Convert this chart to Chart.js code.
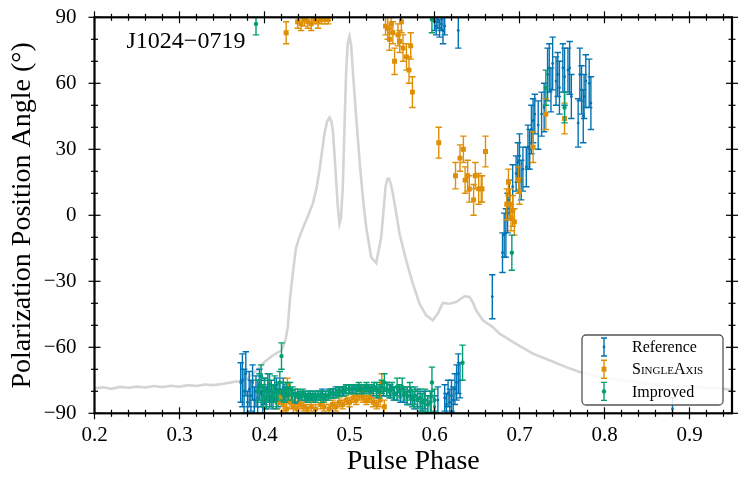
<!DOCTYPE html>
<html>
<head>
<meta charset="utf-8">
<script src="https://cdn.jsdelivr.net/npm/chart.js@4/dist/chart.umd.min.js"></script>
<style>
html,body{margin:0;padding:0;background:#fff;}
canvas{display:block;}
</style>
</head>
<body>
<canvas id="c" width="748" height="486"></canvas>
<script>
// ---------- data ----------
const pulsarName = 'J1024−0719';
const seriesLabels = ['Reference', 'SingleAxis', 'Improved'];
const xTickValues = [0.2, 0.3, 0.4, 0.5, 0.6, 0.7, 0.8, 0.9];
const yTickValues = [-90, -60, -30, 0, 30, 60, 90];

// intensity profile (scaled onto the angle axis)
const profPhase = [0.200,0.210,0.220,0.230,0.240,0.250,0.260,0.270,0.280,0.290,0.300,0.310,0.320,0.330,0.340,0.350,0.360,0.370,0.380,0.390,0.400,0.410,0.420,0.4245,0.4274,0.4300,0.4333,0.437,0.441,0.445,0.449,0.453,0.4568,0.461,0.4647,0.468,0.4706,0.4735,0.4765,0.4785,0.4804,0.4823,0.4843,0.4862,0.4882,0.4900,0.4921,0.4941,0.4961,0.4980,0.5000,0.5020,0.5039,0.5078,0.5118,0.5157,0.5196,0.5255,0.5314,0.5373,0.5400,0.5424,0.5445,0.5463,0.5485,0.5510,0.5550,0.5588,0.5667,0.5745,0.5824,0.5902,0.5980,0.6039,0.6098,0.6176,0.6255,0.6353,0.6412,0.6450,0.6490,0.6569,0.6686,0.6765,0.6961,0.7157,0.7353,0.7549,0.7706,0.800,0.850,0.900,0.9392,0.950];
const profVal   = [-78.6,-78.2,-78.9,-78.0,-78.4,-77.9,-78.3,-77.6,-78.1,-77.5,-77.9,-77.2,-77.6,-76.9,-77.2,-76.7,-76.0,-75.3,-74.2,-70.8,-66.7,-63.6,-61.4,-57.0,-50.8,-38.0,-26.5,-15.0,-9.9,-6.0,-2.3,1.5,5.3,12.0,20.5,30.0,37.1,42.5,44.4,43.0,38.6,28.0,15.9,4.0,-3.8,-1.0,12.9,40.0,65.9,78.5,81.4,77.0,65.9,45.0,25.0,8.0,-5.3,-19.0,-21.7,-9.9,2.0,12.9,16.5,16.7,14.5,9.9,1.0,-8.3,-20.5,-31.0,-40.2,-45.5,-47.7,-44.7,-39.8,-40.2,-39.4,-36.8,-37.1,-39.5,-43.2,-47.7,-50.8,-53.8,-58.4,-62.9,-65.9,-69.0,-71.2,-74.0,-76.5,-78.0,-78.8,-79.5];

// Reference
const refPhase = [0.372,0.374,0.376,0.378,0.380,0.382,0.384,0.386,0.388,0.390,0.392,0.394,0.396,0.398,0.400,0.402,0.404,0.406,0.408,0.410,0.412,0.414,0.416,0.418,0.420,0.422,0.424,0.426,0.428,
 0.432,0.436,0.440,0.444,0.448,0.452,0.456,0.460,0.464,0.468,0.472,0.476,0.480,0.484,0.488,0.492,0.496,0.500,0.504,0.508,0.512,0.516,0.520,0.524,0.528,0.532,0.536,0.540,0.544,0.548,0.552,0.556,0.560,0.564,0.568,0.572,0.576,0.580,0.584,0.588,0.592,0.596,0.600,0.604,
 0.612,0.614,0.616,0.618,0.620,0.622,0.624,0.626,0.628,0.630,
 0.600,0.602,0.604,0.606,0.608,0.610,0.612,0.628,
 0.668,0.880,
 0.680,0.682,0.684,0.686,0.688,0.692,0.696,0.698,0.700,0.702,0.704,0.708,0.710,0.712,0.714,0.716,0.718,0.722,0.726,0.729,0.733,0.735,0.737,0.739,0.743,0.745,0.747,0.751,0.753,0.757,0.759,0.761,0.769,0.771,0.773,0.775,0.776,0.778,0.782,0.784];
const refPA = [-76,-75,-80,-72,-85,-79,-82,-76,-84,-80,-83,-77,-81,-85,-80,-83,-78,-82,-80,-84,-81,-79,-83,-80,-82,-78,-81,-80,-82,
 -82,-83,-83,-82,-83,-82,-83,-82,-82,-81,-82,-81,-81,-80,-80,-80,-79,-79,-79,-80,-79,-80,-79,-80,-80,-81,-80,-80,-79,-80,-81,-81,-82,-82,-83,-82,-84,-83,-85,-84,-86,-85,-87,-84,
 -83,-86,-81,-85,-82,-84,-79,-76,-72,-75,
 88,86,88,85,87,84,86,84,
 -37,-88,
 -17,-9,-8,1,7,13,19,24,27,16,21,22,31,30,39,43,46,41,46,49,64,67,57,69,61,64,58,67,63,66,67,54,42,64,57,45,54,61,60,51];
const refErr = [9,12,10,10,5,8,7,8,6,7,8,7,6,5,6,5,6,5,5,4,4,5,4,4,3,4,3,3,3,
 2.5,2.5,2,2,2,2,2,2,2,2,2,2,2,2,2,2,2,2,2,2,2,2,2,2,2,2,2,2,3,3,3,3,3,3,3,4,4,4,4,4,4,5,5,6,
 6,5,6,6,7,6,7,8,9,8,
 4,4,3,4,3,6,4,8,
 10,5,
 9,10,11,9,9,10,8,9,10,9,10,9,10,9,11,10,9,11,10,11,12,11,10,12,11,10,12,11,13,10,12,10,11,12,11,12,10,12,11,12];

// SingleAxis
const saPhase = [0.4255,0.439,0.443,0.447,0.451,0.455,0.459,0.463,0.467,0.471,0.475,
 0.5424,0.545,0.547,0.549,0.551,0.553,0.557,0.559,0.561,0.563,0.567,0.570,0.572,0.574,
 0.605,0.6247,0.630,0.634,0.636,0.639,0.641,0.646,0.648,0.652,0.655,0.656,0.660,
 0.685,0.687,0.689,0.690,0.692,0.694,0.699,0.700,0.716,0.731,0.753,
 0.415,0.418,0.422,0.426,0.427,0.430,0.434,0.438,0.442,0.446,0.450,0.455,0.460,0.466,0.470,0.476,0.480,0.484,0.488,0.492,0.496,0.500,0.504,0.508,0.512,0.516,0.520,0.524,0.528,0.532,0.536,0.538,0.541];
const saPA = [83,88,87,89,88,87,89,88,89,89,89,
 86,85,80,87,83,70,82,79,88,76,72,66,77,56,
 33,18,26,30,16,18,12,7,18,12,12,12,29,
 5,15,5,-1,2,-3,16,11,31,46,44,
 -85,-83,-86,-88,-77,-85,-87,-88,-86,-87,-88,-87,-88,-86,-87,-88,-86,-87,-85,-86,-84,-85,-83,-84,-82,-83,-84,-83,-85,-86,-84,-76,-87];
const saErr = [5,3,3,3,3,3,2,3,2,2,2,
 4,5,5,4,5,6,5,5,5,6,6,6,6,7,
 7,6,6,6,6,7,6,7,6,7,6,6,7,
 7,6,7,6,7,6,6,6,7,7,7,
 3,3,3,3,3,3,3,2,2,2,2,2,2,2,2,2,2,2,2,2,2,2,2,2,2,2,2,2,2,2,3,4,3];

// Improved
const impPhase = [0.390,0.597,0.691,0.731,0.753,
 0.392,0.394,0.396,0.398,0.400,0.402,0.404,0.406,0.408,0.410,0.412,0.414,0.416,0.418,0.420,0.422,0.424,0.426,0.428,0.430,0.433,0.436,0.439,0.442,0.445,0.448,0.451,0.454,0.457,0.460,0.463,0.466,0.469,0.472,0.475,0.478,0.481,0.484,0.487,0.490,0.493,0.496,0.499,0.502,0.505,0.508,0.511,0.514,0.517,0.520,0.523,0.526,0.529,0.532,0.535,0.538,0.541,0.544,0.547,0.550,0.553,0.556,0.559,0.562,0.565,0.568,0.571,0.574,0.577,0.580,0.583,0.586,0.589,0.592,0.595,0.597,0.600,0.633];
const impPA = [87,89,-17,58,49,
 -80,-78,-73,-82,-79,-84,-80,-77,-83,-81,-78,-84,-80,-76,-64,-80,-82,-79,-81,-79,-81,-82,-81,-82,-81,-82,-83,-82,-82,-83,-82,-82,-83,-82,-82,-81,-81,-81,-80,-80,-80,-79,-79,-79,-79,-79,-78,-79,-79,-78,-79,-79,-78,-79,-80,-78,-76,-79,-80,-79,-81,-78,-80,-78,-81,-82,-80,-83,-82,-84,-83,-85,-84,-86,-85,-76,-84,-67];
const impErr = [5,6,8,8,7,
 5,6,5,5,5,4,5,5,4,4,5,4,4,5,6,4,3,3,3,3,3,3,2,2,2,2,2,2,2,2,2,2,2,2,2,2,2,2,2,2,2,2,2,2,2,2,2,2,2,2,2,2,2,3,3,3,4,3,3,3,3,4,3,4,3,4,4,4,4,4,4,4,5,4,5,7,5,8];

// ---------- chart ----------
const BLUE = '#0173b2', ORANGE = '#de8f05', GREEN = '#029e73';
const SERIF = "'Liberation Serif', 'DejaVu Serif', serif";
Chart.defaults.font.family = SERIF;
Chart.defaults.color = '#000';

function pts(xs, ys) { return xs.map((x, i) => ({x: x, y: ys[i]})); }

const errorBarPlugin = {
  id: 'errorbars',
  beforeDatasetDraw(chart, args) {
    const ds = chart.data.datasets[args.index];
    if (!ds.errors) return;
    const {ctx, chartArea} = chart;
    const xs = chart.scales.x, ys = chart.scales.y;
    ctx.save();
    ctx.beginPath();
    ctx.rect(chartArea.left, chartArea.top, chartArea.right - chartArea.left, chartArea.bottom - chartArea.top);
    ctx.clip();
    ctx.strokeStyle = ds.borderColor;
    ctx.lineWidth = 1.4;
    ds.data.forEach((p, i) => {
      const e = ds.errors[i];
      const px = xs.getPixelForValue(p.x);
      const y1 = ys.getPixelForValue(p.y - e), y2 = ys.getPixelForValue(p.y + e);
      ctx.beginPath();
      ctx.moveTo(px, y1); ctx.lineTo(px, y2);
      ctx.moveTo(px - 3.2, y1); ctx.lineTo(px + 3.2, y1);
      ctx.moveTo(px - 3.2, y2); ctx.lineTo(px + 3.2, y2);
      ctx.stroke();
    });
    ctx.restore();
  }
};

const framePlugin = {
  id: 'frame',
  afterDatasetsDraw(chart) {
    const {ctx, chartArea: a} = chart;
    const xs = chart.scales.x, ys = chart.scales.y;
    ctx.save();
    ctx.strokeStyle = '#000';
    ctx.lineWidth = 1.2;
    const tick = (x1, y1, x2, y2) => { ctx.beginPath(); ctx.moveTo(x1, y1); ctx.lineTo(x2, y2); ctx.stroke(); };
    for (let k = 0; k <= 37; k++) {
      const v = 0.2 + 0.02 * k;
      const px = xs.getPixelForValue(v);
      const major = (k % 5 === 0);
      const L = major ? 6 : 3.5;
      tick(px, a.bottom - L, px, a.bottom + L);
      tick(px, a.top - L, px, a.top + L);
    }
    for (let v = -90; v <= 90; v += 10) {
      const py = ys.getPixelForValue(v);
      const major = (v % 30 === 0);
      const L = major ? 6 : 3.5;
      tick(a.left - L, py, a.left + L, py);
      tick(a.right - L, py, a.right + L, py);
    }
    ctx.lineWidth = 2.2;
    ctx.strokeRect(a.left, a.top, a.right - a.left, a.bottom - a.top);
    ctx.fillStyle = '#000';
    ctx.font = '24px ' + SERIF;
    ctx.textBaseline = 'alphabetic';
    ctx.textAlign = 'left';
    ctx.fillText(pulsarName, a.left + 32, a.top + 31);
    ctx.restore();
  }
};

const legendPlugin = {
  id: 'customLegend',
  afterDraw(chart) {
    const {ctx} = chart;
    const bx = 582, by = 335, bw = 141, bh = 70;
    ctx.save();
    ctx.beginPath();
    ctx.roundRect(bx, by, bw, bh, 4);
    ctx.fillStyle = 'rgba(255,255,255,0.85)';
    ctx.fill();
    ctx.lineWidth = 1.3;
    ctx.strokeStyle = '#555';
    ctx.stroke();
    const sets = chart.data.datasets.filter(d => d.errors);
    sets.forEach((ds, i) => {
      const cy = by + 12 + i * 22.2;
      const ix = bx + 22;
      ctx.strokeStyle = ds.borderColor;
      ctx.lineWidth = 1.4;
      ctx.beginPath();
      ctx.moveTo(ix, cy - 9); ctx.lineTo(ix, cy + 9);
      ctx.moveTo(ix - 3, cy - 9); ctx.lineTo(ix + 3, cy - 9);
      ctx.moveTo(ix - 3, cy + 9); ctx.lineTo(ix + 3, cy + 9);
      ctx.stroke();
      ctx.fillStyle = ds.borderColor;
      ctx.beginPath();
      if (ds.pointStyle === 'rect') {
        const s = ds.pointRadius * Math.SQRT1_2;
        ctx.rect(ix - s, cy - s, 2 * s, 2 * s);
      } else {
        ctx.arc(ix, cy, ds.pointRadius, 0, Math.PI * 2);
      }
      ctx.fill();
      ctx.fillStyle = '#000';
      ctx.textBaseline = 'middle';
      ctx.textAlign = 'left';
      ctx.font = (ds.smallCaps ? 'small-caps ' : '') + '16px ' + SERIF;
      ctx.fillText(ds.label, bx + 50, cy + 1);
    });
    ctx.restore();
  }
};

new Chart(document.getElementById('c'), {
  type: 'scatter',
  data: {
    datasets: [
      {type: 'line', label: 'profile', data: pts(profPhase, profVal), borderColor: '#d4d4d4', borderWidth: 2.6,
       pointRadius: 0, tension: 0, fill: false, order: 10},
      {label: seriesLabels[0], data: pts(refPhase, refPA), errors: refErr, borderColor: BLUE, backgroundColor: BLUE,
       pointStyle: 'circle', pointRadius: 1.4, pointBorderWidth: 0, order: 3},
      {label: seriesLabels[1], data: pts(saPhase, saPA), errors: saErr, borderColor: ORANGE, backgroundColor: ORANGE,
       pointStyle: 'rect', pointRadius: 3.5, pointBorderWidth: 0, order: 2, smallCaps: true},
      {label: seriesLabels[2], data: pts(impPhase, impPA), errors: impErr, borderColor: GREEN, backgroundColor: GREEN,
       pointStyle: 'circle', pointRadius: 2.2, pointBorderWidth: 0, order: 1}
    ]
  },
  options: {
    responsive: false,
    animation: false,
    devicePixelRatio: 1,
    layout: {padding: {top: 17.3, right: 16, left: 0, bottom: 0}},
    plugins: {legend: {display: false}, tooltip: {enabled: false}},
    scales: {
      x: {
        type: 'linear', min: 0.2, max: 0.95,
        afterFit(s) { s.height = 72.7; s.paddingLeft = 0; s.paddingRight = 0; },
        afterBuildTicks(s) { s.ticks = xTickValues.map(v => ({value: v})); },
        grid: {display: false, drawTicks: false},
        border: {display: false},
        ticks: {font: {size: 21}, padding: 10, maxRotation: 0, autoSkip: false,
                callback: v => Number(v).toFixed(1)},
        title: {display: true, text: 'Pulse Phase', font: {size: 28}, padding: {top: 0, bottom: 8}}
      },
      y: {
        type: 'linear', min: -90, max: 90,
        afterFit(s) { s.width = 94.5; s.paddingTop = 0; s.paddingBottom = 0; },
        afterBuildTicks(s) { s.ticks = yTickValues.map(v => ({value: v})); },
        grid: {display: false, drawTicks: false},
        border: {display: false},
        ticks: {font: {size: 21}, padding: 18, autoSkip: false,
                callback: v => (v < 0 ? '−' + Math.abs(v) : String(v))},
        title: {display: true, text: 'Polarization Position Angle (°)', font: {size: 28}, padding: {top: 6, bottom: 0}}
      }
    }
  },
  plugins: [errorBarPlugin, framePlugin, legendPlugin]
});
</script>
</body>
</html>
